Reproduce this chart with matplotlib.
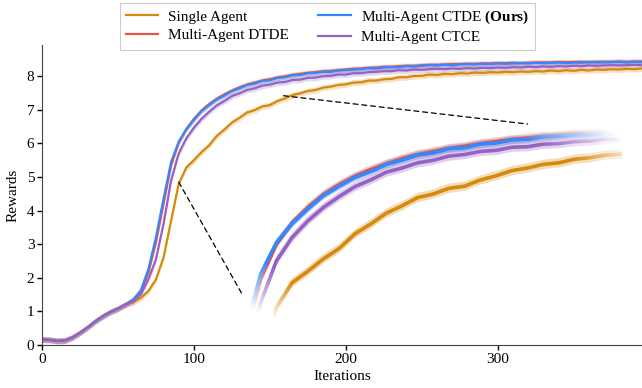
import numpy as np
import matplotlib
matplotlib.use("Agg")
from matplotlib import pyplot as plt
from matplotlib.patches import ConnectionPatch

plt.rcParams['font.family'] = ['Liberation Serif', 'DejaVu Serif']
plt.rcParams['mathtext.fontset'] = 'custom'
plt.rcParams['mathtext.rm'] = 'Liberation Serif'
plt.rcParams['mathtext.bf'] = 'Liberation Serif:bold'

# iterations sampled every 5 steps
iterations = np.arange(0, 400, 5)

early = [0.16, 0.15, 0.12, 0.13, 0.22, 0.36, 0.52, 0.70, 0.85, 0.98, 1.08, 1.20]

single_agent = early + [
    1.27, 1.40, 1.60, 1.95, 2.60, 3.70, 4.80, 5.28, 5.50,
    5.74, 5.94, 6.22, 6.41, 6.62, 6.76, 6.92, 6.99, 7.10, 7.14,
    7.26, 7.34, 7.44, 7.49, 7.56, 7.59, 7.66, 7.69, 7.74, 7.76,
    7.81, 7.82, 7.87, 7.87, 7.91, 7.92, 7.97, 7.97, 8.01, 8.01,
    8.05, 8.04, 8.07, 8.06, 8.09, 8.08, 8.11, 8.10, 8.12, 8.11,
    8.13, 8.12, 8.14, 8.13, 8.15, 8.14, 8.17, 8.15, 8.18, 8.16,
    8.19, 8.17, 8.20, 8.19, 8.21, 8.20, 8.22, 8.21, 8.23]

dtde = early + [
    1.34, 1.58, 2.15, 3.05, 4.20, 5.35, 6.02, 6.43, 6.73,
    6.98, 7.17, 7.33, 7.46, 7.57, 7.67, 7.75, 7.81, 7.87, 7.91,
    7.96, 8.00, 8.04, 8.07, 8.10, 8.12, 8.15, 8.16, 8.18, 8.20,
    8.22, 8.23, 8.25, 8.26, 8.28, 8.28, 8.30, 8.31, 8.31, 8.33,
    8.34, 8.34, 8.35, 8.36, 8.36, 8.37, 8.37, 8.38, 8.38, 8.39,
    8.39, 8.40, 8.39, 8.40, 8.41, 8.41, 8.41, 8.42, 8.42, 8.42,
    8.43, 8.42, 8.43, 8.43, 8.43, 8.44, 8.43, 8.44, 8.44]

ctde = early + [
    1.35, 1.62, 2.25, 3.20, 4.35, 5.45, 6.05, 6.42, 6.70,
    6.96, 7.14, 7.31, 7.42, 7.56, 7.64, 7.74, 7.78, 7.86, 7.88,
    7.95, 7.97, 8.03, 8.04, 8.09, 8.10, 8.13, 8.13, 8.17, 8.18,
    8.20, 8.21, 8.24, 8.23, 8.26, 8.27, 8.27, 8.30, 8.29, 8.31,
    8.33, 8.32, 8.34, 8.33, 8.35, 8.36, 8.35, 8.37, 8.36, 8.38,
    8.37, 8.38, 8.39, 8.38, 8.40, 8.39, 8.40, 8.41, 8.39, 8.41,
    8.40, 8.42, 8.41, 8.41, 8.42, 8.43, 8.41, 8.43, 8.42]

ctce = early + [
    1.30, 1.50, 1.95, 2.55, 3.60, 4.90, 5.70, 6.15, 6.47,
    6.73, 6.94, 7.13, 7.26, 7.41, 7.49, 7.59, 7.64, 7.72, 7.75,
    7.81, 7.83, 7.89, 7.90, 7.95, 7.96, 8.00, 8.01, 8.05, 8.05,
    8.09, 8.09, 8.12, 8.13, 8.15, 8.15, 8.18, 8.17, 8.20, 8.19,
    8.21, 8.22, 8.21, 8.23, 8.22, 8.24, 8.23, 8.25, 8.24, 8.26,
    8.25, 8.27, 8.26, 8.28, 8.27, 8.29, 8.28, 8.30, 8.29, 8.31,
    8.30, 8.32, 8.31, 8.32, 8.33, 8.32, 8.33, 8.34, 8.33]

labels = ['Single Agent', 'Multi-Agent DTDE',
          r'Multi-Agent CTDE $\mathbf{(Ours)}$', 'Multi-Agent CTCE']
spread = [0.09, 0.08, 0.08, 0.09]
colors = ['#d68a0c', '#e9533f', '#3388ff', '#9661c4']
series = [single_agent, dtde, ctde, ctce]

fig = plt.figure(figsize=(6.42, 3.88), dpi=100)
ax = fig.add_axes([0.0654, 0.111, 0.9346, 0.773])

for ys, sd, c, lab in zip(series, spread, colors, labels):
    ys = np.array(ys)
    ax.fill_between(iterations, ys - sd, ys + sd, color=c, alpha=0.25, lw=0)
    ax.plot(iterations, ys, color=c, lw=1.6, label=lab)

ax.set_xlim(0, 395)
ax.set_ylim(0, 8.93)
ax.set_xticks([0, 100, 200, 300])
ax.set_yticks(range(9))
ax.set_xlabel('Iterations', fontsize=11, labelpad=3)
ax.set_ylabel('Rewards', fontsize=11, labelpad=5)
ax.tick_params(labelsize=11, length=3.5, width=1, pad=2)
for side in ['top', 'right']:
    ax.spines[side].set_visible(False)
for side in ['left', 'bottom']:
    ax.spines[side].set_color('#444444')

# zoomed view of the rising part
ax_in = fig.add_axes([0.3816, 0.1804, 0.587, 0.495])
for ys, sd, c in zip(series, spread, colors):
    ys = np.array(ys)
    ax_in.fill_between(iterations, ys - sd, ys + sd, color=c, alpha=0.3, lw=0)
    ax_in.plot(iterations, ys, color=c, lw=2.6)
ax_in.set_xlim(80, 200)
ax_in.set_ylim(4.6, 8.3)
ax_in.axis('off')

# soft elliptical fade at the inset edges
gx, gy = np.meshgrid(np.linspace(-1, 1, 300), np.linspace(-1, 1, 200))
r = np.sqrt(gx ** 2 + gy ** 2)
fade = np.clip((r - 0.98) / 0.35, 0, 1)
rgba = np.ones((200, 300, 4))
rgba[..., 3] = fade
ax_in.imshow(rgba, extent=[0, 1, 0, 1], transform=ax_in.transAxes,
             aspect='auto', zorder=5, origin='lower')

for (xa, ya), (xb, yb) in [((90, 4.85), (-0.005, 0.115)),
                           ((159, 7.42), (0.75, 1.01))]:
    con = ConnectionPatch(xyA=(xa, ya), coordsA=ax.transData,
                          xyB=(xb, yb), coordsB=ax_in.transAxes,
                          ls=(0, (4, 3)), color='black', lw=0.9)
    fig.add_artist(con)

leg = fig.legend(loc='upper center', bbox_to_anchor=(0.51, 1.0), ncol=2,
                 fontsize=11, handlelength=2.15, handletextpad=0.65,
                 columnspacing=1.9, labelspacing=0.33, borderpad=0.35,
                 borderaxespad=0.2, framealpha=1,
                 edgecolor='#cccccc', fancybox=False)
leg.get_frame().set_linewidth(0.8)

fig.savefig('out.png', dpi=100)
